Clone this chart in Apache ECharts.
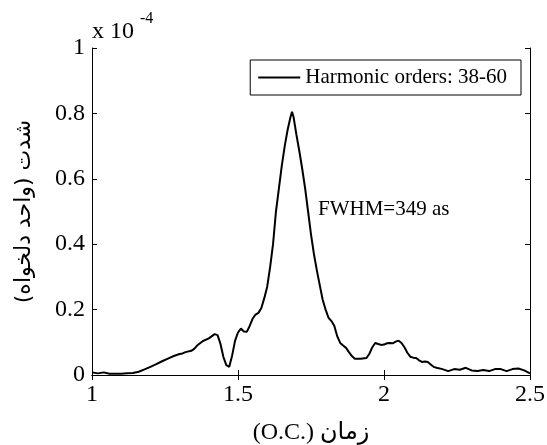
<!DOCTYPE html>
<html>
<head>
<meta charset="utf-8">
<script src="https://cdn.jsdelivr.net/npm/echarts@6/dist/echarts.min.js"></script>
<style>
html,body{margin:0;padding:0;background:#fff;}
#c{width:547px;height:445px;}
</style>
</head>
<body>
<div id="c"></div>
<script>
// time in optical cycles (O.C.)
const timeOC = [1.00,1.02,1.04,1.06,1.08,1.10,1.12,1.14,1.16,1.18,1.20,1.22,1.24,1.26,1.28,1.30,1.31,1.32,1.34,1.35,1.36,1.38,1.40,1.42,1.43,1.44,1.45,1.46,1.47,1.48,1.49,1.50,1.51,1.52,1.53,1.54,1.55,1.56,1.57,1.58,1.59,1.60,1.61,1.62,1.63,1.64,1.65,1.66,1.67,1.68,1.685,1.69,1.70,1.71,1.72,1.73,1.74,1.75,1.76,1.77,1.78,1.79,1.80,1.81,1.82,1.83,1.84,1.85,1.86,1.87,1.88,1.89,1.90,1.92,1.94,1.95,1.96,1.97,1.98,1.99,2.00,2.01,2.02,2.03,2.04,2.05,2.06,2.07,2.08,2.09,2.10,2.11,2.12,2.13,2.14,2.15,2.16,2.17,2.18,2.20,2.22,2.24,2.26,2.28,2.30,2.32,2.34,2.36,2.38,2.40,2.42,2.44,2.46,2.48,2.50];
// intensity (x 1e-4, arb. units)
const intensity = [0.008,0.005,0.008,0.004,0.004,0.004,0.005,0.006,0.010,0.017,0.025,0.033,0.042,0.050,0.058,0.064,0.066,0.070,0.074,0.080,0.090,0.104,0.112,0.125,0.122,0.095,0.055,0.030,0.025,0.060,0.105,0.130,0.142,0.133,0.132,0.150,0.172,0.185,0.190,0.205,0.235,0.270,0.330,0.400,0.500,0.570,0.640,0.700,0.750,0.790,0.805,0.790,0.735,0.685,0.630,0.570,0.500,0.430,0.370,0.320,0.275,0.230,0.200,0.175,0.165,0.150,0.118,0.098,0.090,0.083,0.070,0.058,0.050,0.050,0.052,0.065,0.085,0.098,0.095,0.092,0.093,0.097,0.098,0.097,0.102,0.105,0.098,0.085,0.068,0.056,0.053,0.052,0.045,0.040,0.041,0.040,0.032,0.025,0.022,0.018,0.012,0.018,0.016,0.022,0.014,0.012,0.015,0.012,0.018,0.018,0.012,0.018,0.020,0.014,0.005];
const xTickLabels = ['1','1.5','2','2.5'];
const yTickLabels = ['0','0.2','0.4','0.6','0.8','1'];
const seriesName = 'Harmonic orders: 38-60';
const xAxisTitle = '(O.C.) زمان';
const yAxisTitle = 'شدت (واحد دلخواه)\u200F';
const annotation = 'FWHM=349 as';

const serif = "'Liberation Serif','DejaVu Serif','DejaVu Sans'";
const data = timeOC.map((t,i)=>[t,intensity[i]]);

const axisCommon = {
  type:'value',
  axisLine:{show:true,lineStyle:{color:'#000',width:1}},
  axisTick:{show:true,inside:true,length:5,lineStyle:{color:'#000',width:1}},
  splitLine:{show:false}
};
const fmt = (labels, min, step) => (v => { const i = Math.round((v-min)/step); return labels[i] !== undefined ? labels[i] : ''; });

const chart = echarts.init(document.getElementById('c'), null, {renderer:'canvas'});
chart.setOption({
  animation:false,
  backgroundColor:'#fff',
  grid:{left:92,right:17,top:48,bottom:70,containLabel:false,outerBoundsMode:'none'},
  legend:{
    show:true,
    data:[{name:seriesName, icon:'rect'}],
    right:26, top:60,
    orient:'horizontal',
    borderColor:'#000', borderWidth:1,
    padding:[7,14,7,8],
    itemWidth:42, itemHeight:2, itemGap:6,
    textStyle:{fontFamily:serif,fontSize:21,color:'#000'},
    itemStyle:{opacity:1}
  },
  xAxis:[
    Object.assign({}, axisCommon, {position:'bottom',min:1,max:2.5,interval:0.5,
      axisLabel:{show:true,margin:8,color:'#000',fontFamily:serif,fontSize:24,formatter:fmt(xTickLabels,1,0.5)},
      name:xAxisTitle, nameLocation:'middle', nameGap:46,
      nameTextStyle:{fontFamily:serif,fontSize:24,color:'#000'}}),
    Object.assign({}, axisCommon, {position:'top',min:1,max:2.5,interval:0.5,axisLabel:{show:false}})
  ],
  yAxis:[
    Object.assign({}, axisCommon, {position:'left',min:0,max:1,interval:0.2,
      axisLabel:{show:true,margin:7,color:'#000',fontFamily:serif,fontSize:24,formatter:fmt(yTickLabels,0,0.2)},
      name:yAxisTitle, nameLocation:'middle', nameGap:57, nameRotate:90,
      nameTextStyle:{fontFamily:"'DejaVu Sans'",fontSize:22,color:'#000'}}),
    Object.assign({}, axisCommon, {position:'right',min:0,max:1,interval:0.2,axisLabel:{show:false}})
  ],
  series:[{
    name:seriesName,
    type:'line',
    data:data,
    symbol:'none',
    smooth:false,
    lineStyle:{color:'#000',width:2},
    itemStyle:{color:'#000'}
  }],
  graphic:[
    {type:'text',left:92,top:20,style:{text:'x 10',fontFamily:serif,fontSize:24,fill:'#000'}},
    {type:'text',left:140,top:11,style:{text:'-4',fontFamily:serif,fontSize:16,fill:'#000'}},
    {type:'text',left:318,top:199,style:{text:annotation,fontFamily:serif,fontSize:21,fill:'#000'}}
  ]
});
</script>
</body>
</html>
